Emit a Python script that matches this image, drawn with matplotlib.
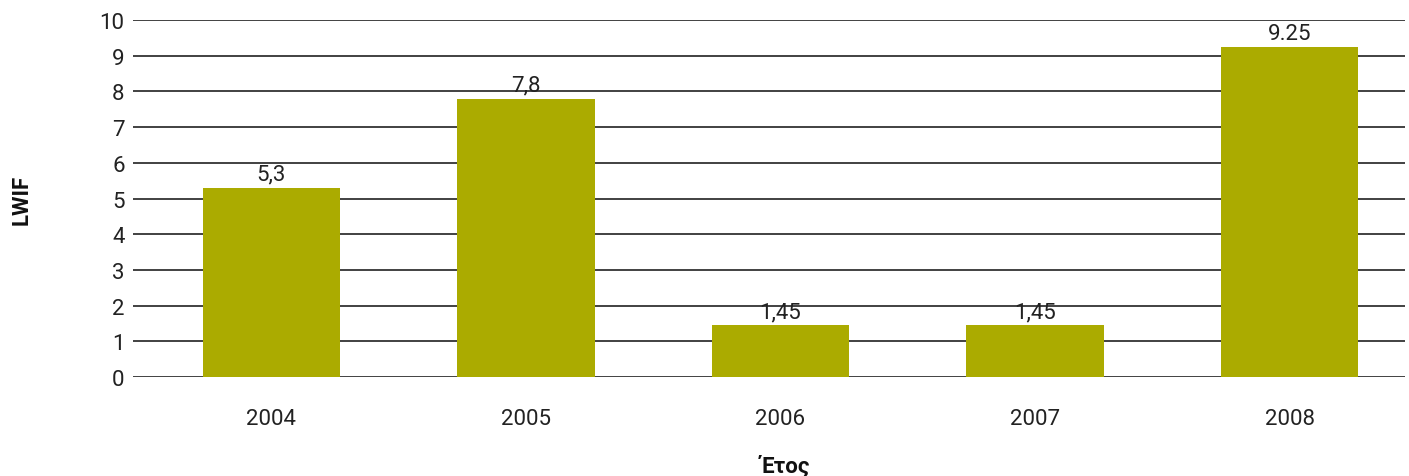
import matplotlib.pyplot as plt

years = ["2004", "2005", "2006", "2007", "2008"]
lwif = [5.3, 7.8, 1.45, 1.45, 9.25]
value_labels = ["5,3", "7,8", "1,45", "1,45", "9.25"]
y_ticks = list(range(0, 11))

plt.rcParams["font.family"] = ["Roboto", "DejaVu Sans"]

fig = plt.figure(figsize=(14.09, 4.77), dpi=100)
ax = fig.add_axes([133 / 1409, 1 - 378 / 477, (1405 - 133) / 1409, (378 - 21) / 477])

x = range(len(years))
bars = ax.bar(x, lwif, width=0.54, color="#abab00", zorder=3)

# value labels sit just above each bar
for bar, label in zip(bars, value_labels):
    ax.text(bar.get_x() + bar.get_width() / 2, bar.get_height() + 0.08, label,
            ha="center", va="bottom", fontsize=16, color="#222222", zorder=4)

ax.set_ylim(0, 10)
ax.set_xlim(-0.543, 4.453)
ax.set_yticks(y_ticks)
ax.set_xticks(list(x))
ax.set_xticklabels(years)
ax.tick_params(axis="both", length=0, labelsize=16, colors="#222222")
ax.tick_params(axis="x", pad=22)
ax.tick_params(axis="y", pad=6)

ax.grid(axis="y", color="#333333", linewidth=1.3, zorder=0)
for spine in ax.spines.values():
    spine.set_visible(False)

fig.text(22 / 1409, 1 - 200 / 477, "LWIF", rotation=90, ha="center", va="center",
         fontsize=16, fontweight="bold", color="#111111")
fig.text(785 / 1409, 1 - 467 / 477, "Έτος", ha="center", va="center",
         fontsize=16, fontweight="bold", color="#111111")

fig.savefig("out.png", dpi=100)
